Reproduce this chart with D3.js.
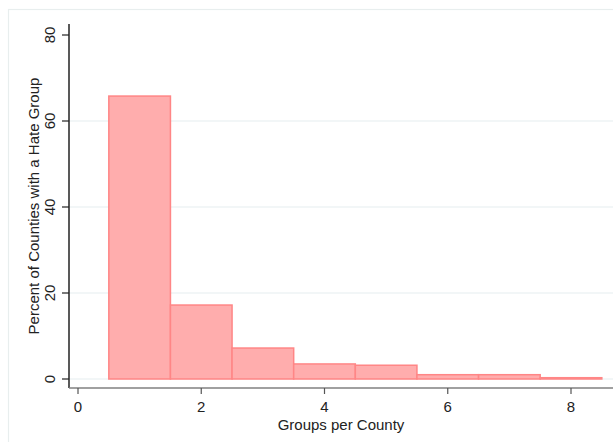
<!DOCTYPE html>
<html>
<head>
<meta charset="utf-8">
<script src="https://cdn.jsdelivr.net/npm/d3@7"></script>
<style>
  html, body { margin: 0; padding: 0; background: #ffffff; }
  svg { display: block; font-family: "Liberation Sans", Arial, sans-serif; }
</style>
</head>
<body>
<svg id="chart" width="613" height="442"></svg>
<script>
// Histogram: number of hate groups per county (counties with at least one group)
const groupCounts = [1, 2, 3, 4, 5, 6, 7, 8];
const percents    = [65.8, 17.2, 7.2, 3.5, 3.2, 1.0, 1.0, 0.3];
const xTicks = [0, 2, 4, 6, 8];
const yTicks = [0, 20, 40, 60, 80];
const gridTicks = [0, 20, 40, 60];
const xTitle = "Groups per County";
const yTitle = "Percent of Counties with a Hate Group";

const svg = d3.select("#chart");
const W = 613, H = 442;

// plot region edges
const plot = { left: 69, right: 613, top: 24, bottom: 388 };

const x = d3.scaleLinear().domain([0, 8]).range([78, 571]);
const y = d3.scaleLinear().domain([0, 80]).range([379, 35]);

// outer graph frame
svg.append("rect")
  .attr("x", 8.5).attr("y", 9.5)
  .attr("width", W + 20).attr("height", H + 20)
  .attr("fill", "none")
  .attr("stroke", "#e8eeee")
  .attr("stroke-width", 1.2);

// horizontal gridlines
svg.append("g")
  .selectAll("line")
  .data(gridTicks)
  .join("line")
  .attr("x1", plot.left).attr("x2", plot.right)
  .attr("y1", d => y(d)).attr("y2", d => y(d))
  .attr("stroke", "#e6eeef")
  .attr("stroke-width", 1.2);

// histogram bars
svg.append("g")
  .selectAll("rect")
  .data(groupCounts.map((g, i) => ({ g, p: percents[i] })))
  .join("rect")
  .attr("x", d => x(d.g - 0.5))
  .attr("width", d => x(d.g + 0.5) - x(d.g - 0.5))
  .attr("y", d => y(d.p))
  .attr("height", d => y(0) - y(d.p))
  .attr("fill", "#ffadad")
  .attr("stroke", "#ff8686")
  .attr("stroke-width", 1.5);

// y axis
const yAxis = svg.append("g");
yAxis.append("line")
  .attr("x1", plot.left).attr("x2", plot.left)
  .attr("y1", plot.top).attr("y2", plot.bottom)
  .attr("stroke", "#222").attr("stroke-width", 1.5);
yAxis.selectAll("line.tick")
  .data(yTicks)
  .join("line")
  .attr("class", "tick")
  .attr("x1", plot.left - 7).attr("x2", plot.left)
  .attr("y1", d => y(d)).attr("y2", d => y(d))
  .attr("stroke", "#222").attr("stroke-width", 1.2);
yAxis.selectAll("text")
  .data(yTicks)
  .join("text")
  .attr("transform", d => `translate(55,${y(d)}) rotate(-90)`)
  .attr("text-anchor", "middle")
  .attr("font-size", 15)
  .attr("fill", "#222")
  .text(d => d);

// x axis
const xAxis = svg.append("g");
xAxis.append("line")
  .attr("x1", plot.left).attr("x2", plot.right)
  .attr("y1", plot.bottom).attr("y2", plot.bottom)
  .attr("stroke", "#808080").attr("stroke-width", 1.5);
xAxis.selectAll("line.tick")
  .data(xTicks)
  .join("line")
  .attr("class", "tick")
  .attr("x1", d => x(d)).attr("x2", d => x(d))
  .attr("y1", plot.bottom).attr("y2", plot.bottom + 6)
  .attr("stroke", "#555").attr("stroke-width", 1.2);
xAxis.selectAll("text")
  .data(xTicks)
  .join("text")
  .attr("x", d => x(d))
  .attr("y", 412)
  .attr("text-anchor", "middle")
  .attr("font-size", 15)
  .attr("fill", "#222")
  .text(d => d);

// axis titles
svg.append("text")
  .attr("x", 341).attr("y", 430)
  .attr("text-anchor", "middle")
  .attr("font-size", 15)
  .attr("fill", "#222")
  .text(xTitle);

svg.append("text")
  .attr("transform", "translate(39,206) rotate(-90)")
  .attr("text-anchor", "middle")
  .attr("font-size", 15)
  .attr("fill", "#222")
  .text(yTitle);
</script>
</body>
</html>
